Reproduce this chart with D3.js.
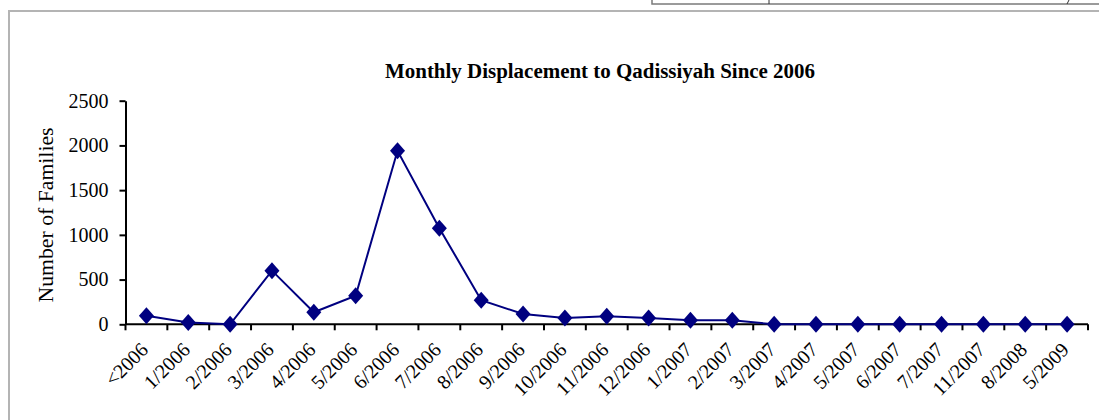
<!DOCTYPE html>
<html>
<head>
<meta charset="utf-8">
<script src="https://cdn.jsdelivr.net/npm/d3@7"></script>
<style>
  body { margin: 0; background: #fff; }
  text { font-family: "Liberation Serif", "DejaVu Serif", serif; fill: #000; }
</style>
</head>
<body>
<div id="chart"></div>
<script>
// data
var categories = ["<2006", "1/2006", "2/2006", "3/2006", "4/2006", "5/2006", "6/2006",
  "7/2006", "8/2006", "9/2006", "10/2006", "11/2006", "12/2006", "1/2007", "2/2007",
  "3/2007", "4/2007", "5/2007", "6/2007", "7/2007", "11/2007", "8/2008", "5/2009"];
var families = [95, 20, 0, 600, 135, 320, 1940, 1075, 270, 115, 70, 90, 70, 45, 45,
  0, 0, 0, 0, 0, 0, 0, 0];
var yTicks = [0, 500, 1000, 1500, 2000, 2500];
var title = "Monthly Displacement to Qadissiyah Since 2006";
var yLabel = "Number of Families";

var W = 1099, H = 420;
var svg = d3.select("#chart").append("svg")
    .attr("width", W)
    .attr("height", H);

// outer frame (cut off at right and bottom)
svg.append("rect")
    .attr("x", 9).attr("y", 11)
    .attr("width", 1200).attr("height", 600)
    .attr("fill", "none")
    .attr("stroke", "#b4b4b4")
    .attr("stroke-width", 2);

// bit of a table above the chart
svg.append("rect")
    .attr("x", 652).attr("y", -10)
    .attr("width", 600).attr("height", 14)
    .attr("fill", "none")
    .attr("stroke", "#7a7a7a")
    .attr("stroke-width", 1.5);
svg.append("line").attr("x1", 769).attr("x2", 769).attr("y1", 0).attr("y2", 4)
    .attr("stroke", "#333");
svg.append("line").attr("x1", 1067).attr("x2", 1069).attr("y1", 4).attr("y2", 0)
    .attr("stroke", "#333");

var x = d3.scaleBand()
    .domain(categories)
    .range([125.5, 1088])
    .padding(0);
var y = d3.scaleLinear()
    .domain([0, 2500])
    .range([324.3, 100.7]);

// title
svg.append("text")
    .attr("x", 600)
    .attr("y", 78)
    .attr("text-anchor", "middle")
    .attr("textLength", 430)
    .attr("lengthAdjust", "spacingAndGlyphs")
    .style("font-size", "20px")
    .style("font-weight", "bold")
    .text(title);

// y axis
var yAxis = svg.append("g")
    .attr("transform", "translate(125.5,0)")
    .call(d3.axisLeft(y).tickValues(yTicks).tickFormat(d3.format("d"))
        .tickSize(6).tickSizeOuter(0).tickPadding(11));
yAxis.select(".domain").attr("stroke", "#000").attr("stroke-width", 2);
yAxis.selectAll(".tick line").attr("stroke", "#000").attr("stroke-width", 2);
yAxis.selectAll(".tick text")
    .style("font-size", "20px")
    .style("font-family", "Liberation Serif, serif")
    .attr("fill", "#000");

svg.append("text")
    .attr("transform", "translate(53,215) rotate(-90)")
    .attr("text-anchor", "middle")
    .attr("textLength", 175)
    .attr("lengthAdjust", "spacingAndGlyphs")
    .style("font-size", "21px")
    .text(yLabel);

// x axis line and ticks between categories
var bw = x.bandwidth();
svg.append("line")
    .attr("x1", x.range()[0]).attr("x2", x.range()[1])
    .attr("y1", y(0)).attr("y2", y(0))
    .attr("stroke", "#000").attr("stroke-width", 2);
var edges = categories.map(function(c) { return x(c); }).concat([x.range()[1]]);
svg.selectAll(".xtick")
    .data(edges)
    .enter().append("line")
    .attr("class", "xtick")
    .attr("x1", function(d) { return d; })
    .attr("x2", function(d) { return d; })
    .attr("y1", y(0))
    .attr("y2", y(0) + 6)
    .attr("stroke", "#000").attr("stroke-width", 2);

svg.selectAll(".xlabel")
    .data(categories)
    .enter().append("text")
    .attr("class", "xlabel")
    .attr("text-anchor", "end")
    .style("font-size", "20px")
    .attr("transform", function(d) {
        return "translate(" + (x(d) + bw / 2 + 3) + "," + 351 + ") rotate(-45)";
    })
    .text(function(d) { return d; });

// line
var line = d3.line()
    .x(function(d, i) { return x(categories[i]) + bw / 2; })
    .y(function(d) { return y(d); });
svg.append("path")
    .datum(families)
    .attr("d", line)
    .attr("fill", "none")
    .attr("stroke", "#000080")
    .attr("stroke-width", 2);

// diamond markers
svg.selectAll(".mark")
    .data(families)
    .enter().append("path")
    .attr("class", "mark")
    .attr("transform", function(d, i) {
        return "translate(" + (x(categories[i]) + bw / 2) + "," + y(d) + ")";
    })
    .attr("d", "M0,-8.5L7.5,0L0,8.5L-7.5,0Z")
    .attr("fill", "#000080");
</script>
</body>
</html>
